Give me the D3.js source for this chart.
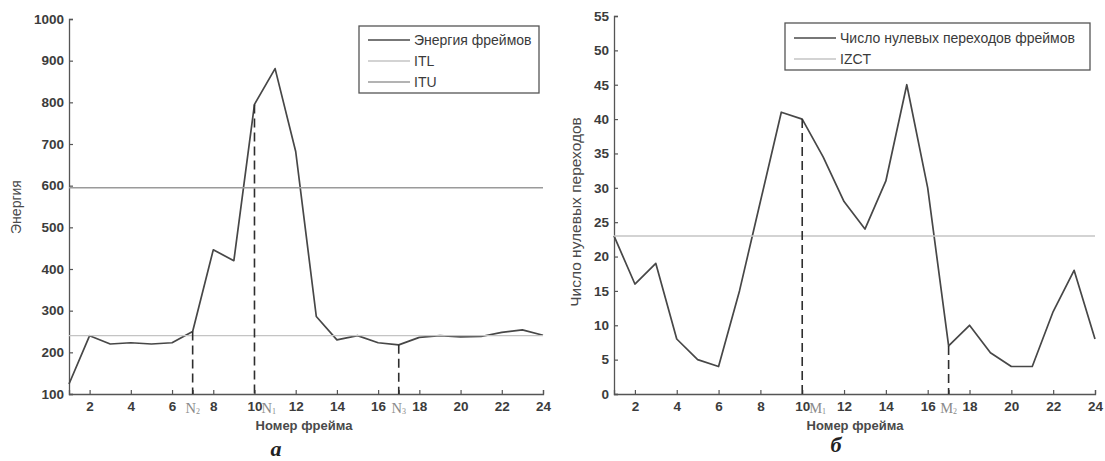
<!DOCTYPE html>
<html><head><meta charset="utf-8">
<script src="https://cdn.jsdelivr.net/npm/d3@7"></script>
<style>body{margin:0;background:#fff}svg{display:block}</style>
</head><body>
<svg id="c" width="1105" height="461"></svg>
<script>
const frames = d3.range(1, 25);
const energy = [124, 240, 220, 223, 220, 223, 250, 446, 420, 795, 881, 682, 286, 230, 240, 223, 218, 236, 240, 237, 238, 248, 254, 241];
const zcr = [23, 16, 19, 8, 5, 4, 15, 28, 41, 40, 34.5, 28, 24, 31, 45, 30, 7, 10, 6, 4, 4, 12, 18, 8];
const ITL = 240, ITU = 595, IZCT = 23;
const xTicks = [2,4,6,8,10,12,14,16,18,20,22,24];
const yTicksE = [100,200,300,400,500,600,700,800,900,1000];
const yTicksZ = [0,5,10,15,20,25,30,35,40,45,50,55];
const markersE = [{x:7, v:250, label:"N", sub:"2", anchor:"middle"}, {x:10, v:795, label:"N", sub:"1", anchor:"start"}, {x:17, v:218, label:"N", sub:"3", anchor:"middle"}];
const markersZ = [{x:10, v:40, label:"M", sub:"1", anchor:"start"}, {x:17, v:7, label:"M", sub:"2", anchor:"middle"}];
const legendE = [{t:"Энергия фреймов", c:"#4a4a4a"}, {t:"ITL", c:"#c4c4c4"}, {t:"ITU", c:"#9a9a9a"}];
const legendZ = [{t:"Число нулевых переходов фреймов", c:"#4a4a4a"}, {t:"IZCT", c:"#c4c4c4"}];

const svg = d3.select("#c");
const FONT = "'Liberation Sans', Arial, sans-serif";

function panel(o) {
  const g = svg.append("g");
  const x = d3.scaleLinear().domain([1,24]).range([o.x0, o.x1]);
  const y = d3.scaleLinear().domain(o.ydom).range([o.yb, o.yt]);
  const ax = d3.axisBottom(x).tickValues(o.xt.concat(o.extraTicks)).tickSize(-4).tickPadding(7).tickFormat(d => xTicks.includes(d) ? d : "");
  const gx = g.append("g").attr("transform", `translate(0,${o.yb})`).call(ax);
  const ay = d3.axisLeft(y).tickValues(o.yt2).tickSize(-4).tickPadding(5).tickFormat(d3.format("d"));
  const gy = g.append("g").attr("transform", `translate(${o.x0},0)`).call(ay);
  [gx, gy].forEach(a => {
    a.select(".domain").attr("stroke", "#555").attr("stroke-width", 1.3);
    a.selectAll(".tick line").attr("stroke", "#555").attr("stroke-width", 1.2);
    a.selectAll("text").attr("font-family", FONT).attr("font-size", 13.5).attr("font-weight", "bold").attr("fill", "#3c3c3c");
  });
  const line = d3.line().x((d,i) => x(frames[i])).y(d => y(d));
  g.append("path").datum(o.data).attr("d", line).attr("fill","none").attr("stroke","#474747").attr("stroke-width",1.7).attr("stroke-linejoin","round");
  o.th.forEach(t => {
    g.append("line").attr("x1", x(1)).attr("x2", x(24)).attr("y1", y(t.v)).attr("y2", y(t.v)).attr("stroke", t.c).attr("stroke-width", 1.4);
  });
  o.markers.forEach(m => {
    g.append("line").attr("x1", x(m.x)).attr("x2", x(m.x)).attr("y1", y(m.v)).attr("y2", o.yb)
      .attr("stroke", "#2e2e2e").attr("stroke-width", 1.6).attr("stroke-dasharray", "9,5");
    const lx = m.anchor === "start" ? x(m.x) + 7 : x(m.x);
    const t = g.append("text").attr("x", lx).attr("y", o.yb + 19).attr("text-anchor", m.anchor)
      .attr("font-family","'Liberation Serif', 'Times New Roman', serif").attr("font-size", 14.5).attr("fill", "#8a8a8a");
    t.append("tspan").text(m.label);
    t.append("tspan").attr("font-size", 8).attr("dy", 1).text(m.sub);
  });
  const L = o.legend;
  g.append("rect").attr("x", L.x).attr("y", L.y).attr("width", L.w).attr("height", L.h).attr("fill","#fff").attr("stroke","#555").attr("stroke-width",1.3);
  L.items.forEach((it, i) => {
    const yy = L.y + L.first + i * L.step;
    g.append("line").attr("x1", L.x + 9).attr("x2", L.x + 9 + L.len).attr("y1", yy).attr("y2", yy).attr("stroke", it.c).attr("stroke-width", 1.5);
    g.append("text").attr("x", L.x + 13 + L.len).attr("y", yy + 5).attr("font-family", FONT).attr("font-size", 14).attr("fill", "#3a3a3a").text(it.t);
  });
  g.append("text").attr("x", o.xlc).attr("y", o.yb + 36).attr("text-anchor", "middle").attr("font-family", FONT).attr("font-size", 13).attr("font-weight","bold").attr("fill","#4a4a4a").text("Номер фрейма");
  g.append("text").attr("transform", `translate(${o.ylx},${o.ylc}) rotate(-90)`).attr("text-anchor","middle").attr("font-family", FONT).attr("font-size", o.ylfs).attr("fill","#4a4a4a").text(o.ylabel);
  g.append("text").attr("x", o.capx).attr("y", o.capy).attr("text-anchor","middle").attr("font-family","'Liberation Serif', 'Times New Roman', serif").attr("font-size", 22).attr("font-weight","bold").attr("font-style","italic").attr("fill","#222").text(o.cap);
}

panel({x0: 69, x1: 543, yb: 394, yt: 19, ydom: [100, 1000], xt: xTicks, extraTicks: [7,17], yt2: yTicksE, data: energy,
  th: [{v: ITL, c: "#c4c4c4"}, {v: ITU, c: "#9a9a9a"}], markers: markersE,
  legend: {x: 359, y: 26, w: 180, h: 67, first: 14, step: 21, len: 42, items: legendE},
  ylabel: "Энергия", ylfs: 14, ylx: 21, ylc: 207, xlc: 304, cap: "а", capx: 276, capy: 456});
panel({x0: 614, x1: 1095, yb: 394, yt: 16, ydom: [0, 55], xt: xTicks, extraTicks: [17], yt2: yTicksZ, data: zcr,
  th: [{v: IZCT, c: "#c4c4c4"}], markers: markersZ,
  legend: {x: 785, y: 23, w: 305, h: 47, first: 15, step: 21, len: 42, items: legendZ},
  ylabel: "Число нулевых переходов", ylfs: 15.5, ylx: 581, ylc: 212, xlc: 855, cap: "б", capx: 836, capy: 452});
</script>
</body></html>
